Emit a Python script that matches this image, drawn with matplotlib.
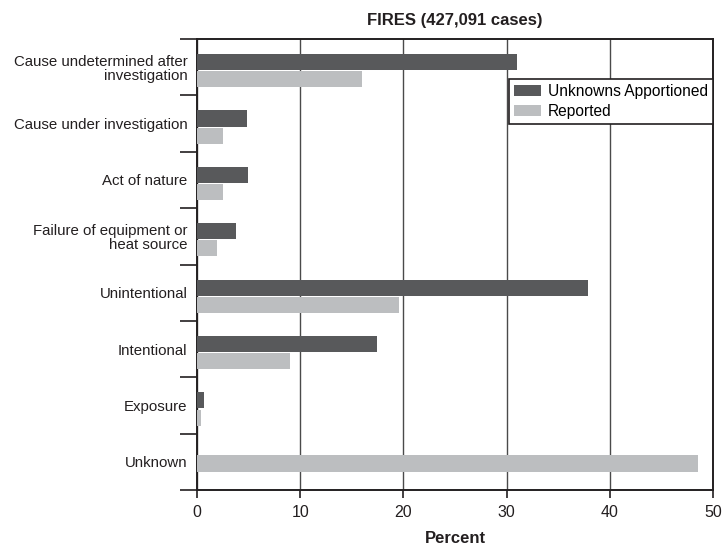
import numpy as np
import matplotlib
matplotlib.use("Agg")
import matplotlib.pyplot as plt

plt.rcParams['font.family'] = ['Liberation Sans', 'DejaVu Sans']

# percent of fires by cause, top to bottom
causes = ['Cause undetermined after\ninvestigation', 'Cause under investigation',
          'Act of nature', 'Failure of equipment or\nheat source', 'Unintentional',
          'Intentional', 'Exposure', 'Unknown']
apportioned = [31.0, 4.8, 4.9, 3.8, 37.9, 17.4, 0.7, np.nan]
reported = [16.0, 2.5, 2.5, 1.9, 19.6, 9.0, 0.4, 48.5]

dark = '#58595b'
light = '#bcbec0'
ink = '#231f20'

fig = plt.figure(figsize=(7.24, 5.48), dpi=100)
ax = fig.add_axes([0.2721, 0.1058, 0.7127, 0.8230])

n = len(causes)
y = np.arange(n)
h = 0.285
# bars sit a bit below the category centre; a lone bar is centred
dark_y = y - 0.09
light_y = np.where(np.isnan(apportioned), y + 0.03, y + 0.215)

ax.barh(dark_y, np.nan_to_num(apportioned), height=h, color=dark,
        label='Unknowns Apportioned', zorder=3)
ax.barh(light_y, reported, height=h, color=light, label='Reported', zorder=3)

ax.set_xlim(0, 50)
ax.set_ylim(n - 0.5, -0.5)
ax.set_xticks(range(0, 51, 10))
ax.tick_params(axis='x', direction='out', length=6, width=1.2, color=ink,
               labelsize=11.5, pad=5, labelcolor=ink)
ax.set_yticks(y)
ax.set_yticklabels(causes, fontsize=10.8, color=ink, linespacing=1.05)
ax.tick_params(axis='y', which='major', length=0, pad=7)
ax.set_yticks(np.arange(-0.5, n, 1.0), minor=True)
ax.tick_params(axis='y', which='minor', direction='out', length=12,
               width=1.2, color=ink)

for t in ax.get_yticklabels():
    t.set_horizontalalignment('right')
    t.set_multialignment('right')

ax.grid(axis='x', color='#4a4a4a', linewidth=1.0, zorder=1)
for s in ax.spines.values():
    s.set_color(ink)
    s.set_linewidth(1.4)

ax.set_xlabel('Percent', fontsize=12, fontweight='bold', color=ink, labelpad=8)
ax.set_title('FIRES (427,091 cases)', fontsize=12, fontweight='bold',
             color=ink, pad=10, family=['Liberation Sans Narrow', 'Liberation Sans'])

leg = ax.legend(loc='upper right', bbox_to_anchor=(1.0, 0.912), fontsize=11.2,
                frameon=True, fancybox=False, edgecolor=ink, framealpha=1,
                handlelength=1.75, handleheight=0.75, handletextpad=0.4,
                borderpad=0.35, labelspacing=0.3, borderaxespad=0)
leg.get_frame().set_linewidth(1.2)

fig.savefig('out.png', dpi=100)
